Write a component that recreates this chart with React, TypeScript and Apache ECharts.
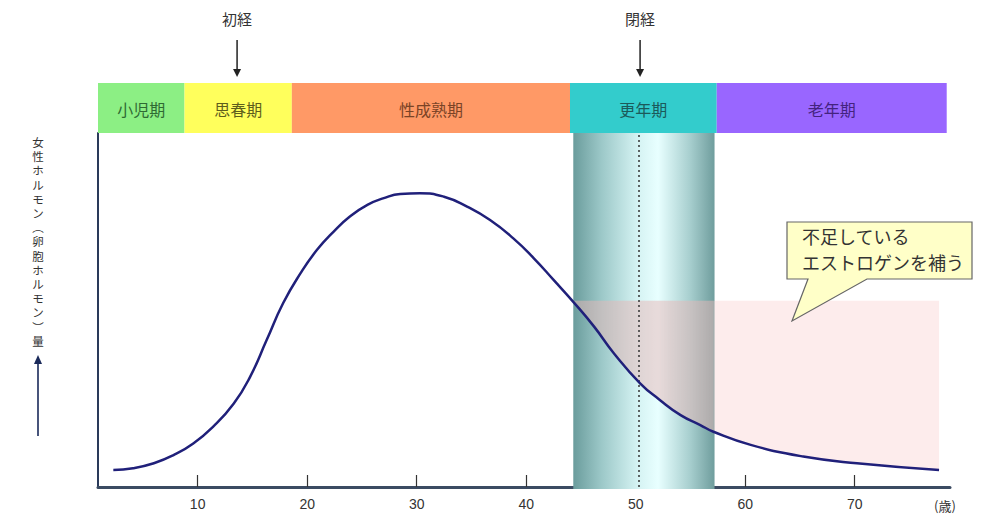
import React, { useEffect, useRef } from 'react';
import * as echarts from 'echarts';

// ---- data ----
const ages = [2.3, 4.1, 6.0, 7.8, 9.6, 11.4, 13.3, 14.8, 16.3, 17.8, 19.4, 20.9, 22.4, 23.9, 25.5, 27.0, 28.5, 30.3, 32.5, 34.6, 36.7, 38.8, 40.7, 42.5, 44.3, 46.2, 48.0, 50.4, 52.2, 54.1, 55.9, 57.1, 60.5, 65.3, 70.2, 77.7];
const hormone = [4.8, 5.3, 6.7, 9.0, 12.3, 17.0, 23.6, 31.2, 41.5, 51.9, 60.4, 67.0, 72.1, 76.4, 79.7, 81.6, 82.8, 83.0, 82.0, 79.2, 75.4, 70.3, 64.6, 58.5, 52.3, 45.3, 37.8, 29.3, 24.6, 20.3, 17.5, 15.6, 11.9, 8.6, 6.7, 4.8];
const deficitFromAge = 44.3;
const deficitLevel = 52.6;
const xTicks = [10, 20, 30, 40, 50, 60, 70];
const stageNames = ['小児期', '思春期', '性成熟期', '更年期', '老年期'];
const stageStart = [0.9, 8.8, 18.6, 44.0, 57.4];
const stageEnd = [8.8, 18.6, 44.0, 57.4, 78.4];
const climacteric = [44.3, 57.2];
const menopauseAge = 50.3;
const eventAges = [13.6, 50.4];
const eventNames = ['初経', '閉経'];
const yLabel = '女性ホルモン︵卵胞ホルモン︶量';
const unitLabel = '(歳)';
const calloutLines = ['不足している', 'エストロゲンを補う'];

// ---- styles ----
const stageColors = ['#8cef84', '#ffff5c', '#ff9966', '#33cccc', '#9966ff'];
const stageTextColors = ['#2f6a33', '#5e5e1c', '#7a4326', '#1c5a5a', '#44237f'];
const JP = '"Noto Sans CJK JP", "Noto Sans", sans-serif';
const NUM = '"Liberation Sans", Arial, sans-serif';

export default function App() {
  const ref = useRef<HTMLDivElement>(null);
  useEffect(() => {
    document.body.style.margin = '0';
    const chart = echarts.init(ref.current!, null, { renderer: 'svg' });
    const curve = ages.map((a, i) => [a, hormone[i]]);
    const deficit = curve.filter((p) => p[0] >= deficitFromAge);
    const deficitInColumn = deficit.filter((p) => p[0] <= climacteric[1]);
    const xMin = 0.9;
    const xMax = 78.7;
    const yChars = yLabel.split('');
    chart.setOption({
      animation: false,
      grid: [
        { left: 98, right: 50, top: 133, bottom: 42 },
        { left: 98, right: 50, top: 83, height: 50 },
      ],
      xAxis: [
        {
          type: 'value', gridIndex: 0, min: xMin, max: xMax,
          axisLine: { show: true, lineStyle: { color: '#3b4b62', width: 3 } },
          axisTick: { show: true, inside: true, length: 12, customValues: xTicks, lineStyle: { color: '#333', width: 1.2 } },
          axisLabel: { customValues: xTicks, color: '#333', fontSize: 14, margin: 10, fontFamily: NUM },
          splitLine: { show: false },
        },
        { type: 'value', gridIndex: 1, min: xMin, max: xMax, show: false },
      ],
      yAxis: [
        {
          type: 'value', gridIndex: 0, min: 0, max: 100,
          axisLine: { show: true, lineStyle: { color: '#2a3a5a', width: 2 } },
          axisTick: { show: false }, axisLabel: { show: false }, splitLine: { show: false },
        },
        { type: 'value', gridIndex: 1, min: 0, max: 1, show: false },
      ],
      series: [
        {
          type: 'custom', xAxisIndex: 0, yAxisIndex: 0, z: 2,
          encode: { x: [0, 1] },
          data: [[climacteric[0], climacteric[1]]],
          renderItem: (params: any, api: any) => {
            const p0 = api.coord([api.value(0), 100]);
            const p1 = api.coord([api.value(1), 0]);
            return {
              type: 'rect',
              shape: { x: p0[0], y: p0[1], width: p1[0] - p0[0], height: p1[1] - p0[1] + 2 },
              style: {
                fill: new echarts.graphic.LinearGradient(0, 0, 1, 0, [
                  { offset: 0, color: '#6a9c9c' },
                  { offset: 0.2, color: '#9cc8c8' },
                  { offset: 0.45, color: '#d4f2f2' },
                  { offset: 0.6, color: '#e8ffff' },
                  { offset: 0.82, color: '#a9d0d0' },
                  { offset: 1, color: '#6f9d9d' },
                ]),
              },
            };
          },
        },
        {
          type: 'line', xAxisIndex: 0, yAxisIndex: 0, z: 3,
          data: deficit, smooth: 0.5, symbol: 'none',
          lineStyle: { width: 0 },
          areaStyle: { color: 'rgba(250,200,200,0.5)', origin: deficitLevel },
          silent: true,
        },
        {
          type: 'line', xAxisIndex: 0, yAxisIndex: 0, z: 4,
          data: deficitInColumn, smooth: 0.5, symbol: 'none',
          lineStyle: { width: 0 },
          areaStyle: { color: 'rgba(215,165,165,0.35)', origin: deficitLevel },
          silent: true,
        },
        {
          type: 'line', xAxisIndex: 0, yAxisIndex: 0, z: 5,
          data: curve, smooth: 0.5, symbol: 'none',
          lineStyle: { color: '#20207a', width: 2.5 },
          markLine: {
            silent: true, symbol: ['none', 'none'],
            label: { show: false },
            lineStyle: { type: [2, 3], color: '#333', width: 1.5 },
            data: [{ xAxis: menopauseAge }],
          },
        },
        {
          type: 'custom', xAxisIndex: 1, yAxisIndex: 1, z: 2,
          encode: { x: [0, 1] },
          data: stageStart.map((s, i) => [s, stageEnd[i], i]),
          renderItem: (params: any, api: any) => {
            const idx = api.value(2);
            const p0 = api.coord([api.value(0), 1]);
            const p1 = api.coord([api.value(1), 0]);
            return {
              type: 'group',
              children: [
                { type: 'rect', shape: { x: p0[0], y: p0[1], width: p1[0] - p0[0], height: p1[1] - p0[1] }, style: { fill: stageColors[idx] } },
                {
                  type: 'text',
                  style: {
                    text: stageNames[idx], x: (p0[0] + p1[0]) / 2, y: (p0[1] + p1[1]) / 2 + 1,
                    align: 'center', verticalAlign: 'middle', fill: stageTextColors[idx],
                    font: `16px ${JP}`,
                  },
                },
              ],
            };
          },
        },
        {
          type: 'custom', xAxisIndex: 1, yAxisIndex: 1, z: 3,
          data: eventAges.map((a, i) => [a, i]),
          renderItem: (params: any, api: any) => {
            const idx = api.value(1);
            const p = api.coord([api.value(0), 1]);
            const x = p[0];
            const y = p[1];
            return {
              type: 'group',
              children: [
                { type: 'line', shape: { x1: x, y1: y - 43, x2: x, y2: y - 12 }, style: { stroke: '#222', lineWidth: 1.5 } },
                { type: 'polygon', shape: { points: [[x - 4, y - 14], [x + 4, y - 14], [x, y - 6]] }, style: { fill: '#222' } },
                {
                  type: 'text',
                  style: { text: eventNames[idx], x, y: y - 65, align: 'center', verticalAlign: 'middle', fill: '#333', font: `15px ${JP}` },
                },
              ],
            };
          },
        },
      ],
      graphic: [
        ...yChars.map((ch, i) => ({
          type: 'text', x: 38, y: 142 + i * 14.2, z: 10,
          style: { text: ch, fill: '#333', font: `11.5px ${JP}`, align: 'center', verticalAlign: 'middle' },
        })),
        { type: 'line', shape: { x1: 38, y1: 436, x2: 38, y2: 362 }, style: { stroke: '#1a2a5a', lineWidth: 1.6 } },
        { type: 'polygon', shape: { points: [[34, 364], [42, 364], [38, 355]] }, style: { fill: '#1a2a5a' } },
        {
          type: 'text', x: 945, y: 505, z: 10,
          style: { text: unitLabel, fill: '#333', font: `13px ${JP}`, align: 'center', verticalAlign: 'middle' },
        },
        {
          type: 'polygon', z: 20,
          shape: { points: [[787, 222], [972, 222], [972, 279], [867, 279], [792, 321], [808, 279], [787, 279]] },
          style: { fill: '#ffffc8', stroke: '#666', lineWidth: 1.2 },
        },
        {
          type: 'text', x: 802, y: 223, z: 21,
          style: { text: calloutLines.join('\n'), fill: '#333', font: `18px ${JP}`, lineHeight: 26 },
        },
      ],
    });
    return () => chart.dispose();
  }, []);
  return <div ref={ref} style={{ width: 1000, height: 529 }} />;
}
